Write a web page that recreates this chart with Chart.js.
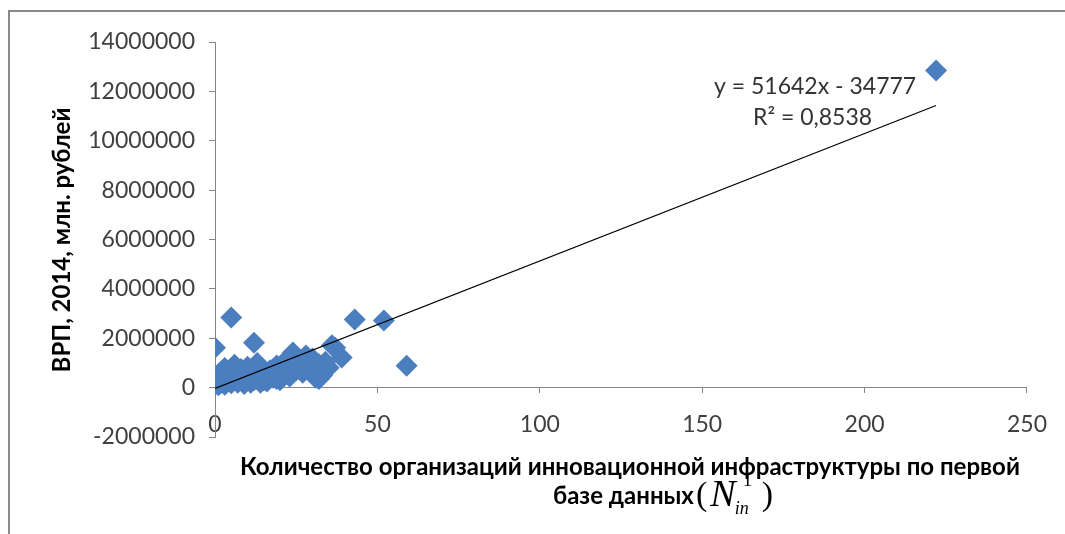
<!DOCTYPE html>
<html>
<head>
<meta charset="utf-8">
<script src="https://cdn.jsdelivr.net/npm/chart.js@4/dist/chart.umd.min.js"></script>
<style>
  body { margin: 0; background: #fff; }
  #wrap { position: relative; width: 1065px; height: 534px; overflow: hidden; }
  #frame { position: absolute; left: 8px; top: 10px; width: 1100px; height: 600px;
           border-top: 2px solid #8a8a8a; border-left: 2px solid #8a8a8a; }
  canvas { position: absolute; left: 0; top: 0; }
</style>
</head>
<body>
<div id="wrap">
  <div id="frame"></div>
  <canvas id="scatterChart" width="1065" height="534"></canvas>
</div>
<script>
// Number of innovation infrastructure organisations (first database)
const orgCount = [
  222, 5, 0, 12, 43, 52, 59,
  24, 30, 33, 37, 39, 35, 22, 31, 36, 34, 32, 28,
  13, 14, 15, 16, 17, 18, 19, 20, 21, 22, 23, 25, 26, 27, 28, 29, 30, 32, 33,
  0, 0, 1, 1, 1, 2, 2, 3, 3, 3, 4, 4, 5, 5, 6, 6, 6, 7, 7, 8, 8, 9, 9,
  10, 10, 11, 11, 12, 12, 13, 14, 15, 16, 17, 18, 19, 20, 21
];

// GRP 2014, million rubles
const grp = [
  12850000, 2840000, 1620000, 1820000, 2760000, 2720000, 890000,
  1420000, 1180000, 690000, 1620000, 1220000, 810000, 690000, 400000, 1720000, 1050000, 950000, 1300000,
  1000000, 850000, 300000, 600000, 450000, 750000, 350000, 550000, 900000, 1130000, 450000, 700000, 950000, 600000, 1050000, 800000, 550000, 350000, 500000,
  150000, 350000, 100000, 500000, 250000, 200000, 650000, 120000, 400000, 800000, 250000, 550000, 180000, 450000, 930000, 300000, 650000, 200000, 500000, 350000, 750000, 150000, 550000,
  300000, 850000, 450000, 200000, 600000, 300000, 400000, 200000, 550000, 250000, 700000, 400000, 900000, 300000, 500000
];

// Linear trend shown on the chart
const trendSlope = 51642;
const trendIntercept = -34777;
const trendX = [0, Math.max(...orgCount)];

const xTicks = [0, 50, 100, 150, 200, 250];
const yTicks = [-2000000, 0, 2000000, 4000000, 6000000, 8000000, 10000000, 12000000, 14000000];

const points = orgCount.map((x, i) => ({ x: x, y: grp[i] }));
const trendPoints = trendX.map(x => ({ x: x, y: trendSlope * x + trendIntercept }));

const tickFont = { family: 'Lato', size: 23 };
const axisGray = '#868686';

// Axis titles and the trend equation
const textPlugin = {
  id: 'texts',
  afterDraw(chart) {
    const ctx = chart.ctx;
    ctx.save();
    ctx.fillStyle = '#000';
    ctx.textBaseline = 'middle';

    ctx.font = 'bold 24px Lato';
    ctx.textAlign = 'center';
    ctx.save();
    ctx.translate(62, 240);
    ctx.rotate(-Math.PI / 2);
    ctx.fillText('ВРП, 2014, млн. рублей', 0, 0);
    ctx.restore();

    ctx.fillText('Количество организаций инновационной инфраструктуры по первой', 630, 467);
    ctx.textAlign = 'left';
    ctx.fillText('базе данных', 553, 496);

    // (N^1_in)
    let x = 696;
    ctx.font = '34px "Liberation Serif"';
    ctx.fillText('(', x, 496);
    x += ctx.measureText('(').width + 3;
    ctx.font = 'italic 38px "Liberation Serif"';
    ctx.fillText('N', x, 496);
    x += ctx.measureText('N').width + 1;
    ctx.font = '19px "Liberation Serif"';
    ctx.fillText('1', x + 6, 481);
    ctx.font = 'italic 18px "Liberation Serif"';
    ctx.fillText('in', x - 2, 509);
    x += 25;
    ctx.font = '34px "Liberation Serif"';
    ctx.fillText(')', x, 496);

    ctx.fillStyle = '#333';
    ctx.font = '23px Lato';
    ctx.fillText('y = 51642x - 34777', 714, 87);
    ctx.fillText('R² = 0,8538', 753, 118);
    ctx.restore();
  }
};

const scatterCanvas = document.getElementById('scatterChart');

const scatterChart = new Chart(scatterCanvas, {
  type: 'scatter',
  data: {
    datasets: [{
      type: 'line',
      data: trendPoints,
      borderColor: '#000',
      borderWidth: 1.2,
      pointRadius: 0,
      fill: false,
      order: 0
    }, {
      data: points,
      backgroundColor: '#4a7ebf',
      borderWidth: 0,
      pointStyle: 'rectRot',
      pointRadius: 11,
      order: 1
    }]
  },
  options: {
    responsive: false,
    animation: false,
    devicePixelRatio: 1,
    layout: { padding: { left: 75, right: 30, top: 42, bottom: 97 } },
    plugins: { legend: { display: false }, tooltip: { enabled: false } },
    scales: {
      x: {
        type: 'linear',
        position: { y: 0 },
        min: 0,
        max: 250,
        afterBuildTicks: s => { s.ticks = xTicks.map(v => ({ value: v })); },
        afterFit: s => { s.height = 0; },
        ticks: { font: tickFont, color: '#404040', padding: 18 },
        grid: { drawOnChartArea: false, tickLength: 5, color: axisGray },
        border: { color: axisGray }
      },
      y: {
        min: -2000000,
        max: 14000000,
        afterBuildTicks: s => { s.ticks = yTicks.map(v => ({ value: v })); },
        afterFit: s => { s.width = 140; },
        ticks: { font: tickFont, color: '#404040', padding: 14, callback: v => String(v) },
        grid: { drawOnChartArea: false, tickLength: 6, color: axisGray },
        border: { color: axisGray }
      }
    }
  },
  plugins: [textPlugin]
});
</script>
</body>
</html>
